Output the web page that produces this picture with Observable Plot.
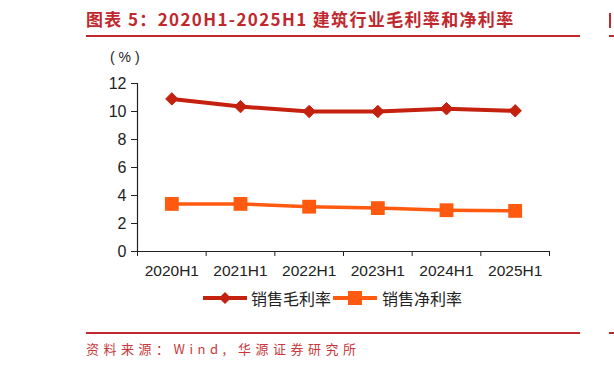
<!DOCTYPE html>
<html>
<head>
<meta charset="utf-8">
<script src="https://cdn.jsdelivr.net/npm/d3@7"></script>
<script src="https://cdn.jsdelivr.net/npm/@observablehq/plot@0.6"></script>
<style>
  html, body { margin: 0; padding: 0; width: 614px; height: 372px; overflow: hidden; background: #fff; }
  body { position: relative; }
  .abs { position: absolute; white-space: nowrap; }
  #title { left: 86px; top: 7px; font-family: "Noto Sans CJK SC", sans-serif; font-weight: 700; font-size: 17px; letter-spacing: 1.35px; color: #C0282E; line-height: 24px; }
  .rule { position: absolute; background: #C0282E; }
  #caption { left: 86px; top: 340px; font-family: "Noto Sans CJK SC", sans-serif; font-weight: 400; font-size: 13px; letter-spacing: 4.5px; color: #C8383C; line-height: 18px; }
  #unit { left: 110px; top: 48px; font-family: "Liberation Sans", Arial, sans-serif; font-size: 14px; color: #222; line-height: 18px; }
  .legtext { font-family: "Noto Sans CJK SC", sans-serif; font-size: 16px; color: #222; line-height: 20px; top: 288px; }
  #chart { position: absolute; left: 0; top: 0; }
</style>
</head>
<body>
<div id="chart"></div>
<div id="title" class="abs">图表 5：2020H1-2025H1 建筑行业毛利率和净利率</div>
<div class="rule" style="left:86px; top:35px; width:494px; height:2px;"></div>
<div class="rule" style="left:609px; top:13px; width:2px; height:15px;"></div>
<div class="rule" style="left:609px; top:35px; width:5px; height:2px;"></div>
<div class="rule" style="left:86px; top:332px; width:494px; height:2px;"></div>
<div class="rule" style="left:609px; top:332px; width:5px; height:2px;"></div>
<div id="caption" class="abs">资料来源：Wind, 华源证券研究所</div>
<div id="unit" class="abs">( % )</div>
<div id="legend"></div>
<script>
const periods = ["2020H1", "2021H1", "2022H1", "2023H1", "2024H1", "2025H1"];
const grossMargin = [10.9, 10.35, 10.0, 10.0, 10.2, 10.05];
const netMargin = [3.4, 3.4, 3.2, 3.1, 2.95, 2.9];
const yTicks = [0, 2, 4, 6, 8, 10, 12];
const seriesNames = ["销售毛利率", "销售净利率"];
const colors = ["#C4210E", "#FF5A0F"];

const gross = periods.map((p, i) => ({i, period: p, value: grossMargin[i]}));
const net = periods.map((p, i) => ({i, period: p, value: netMargin[i]}));
const centers = d3.range(periods.length);
const bounds = d3.range(periods.length + 1).map(k => k - 0.5);

const chart = Plot.plot({
  width: 614,
  height: 372,
  marginLeft: 137,
  marginRight: 65,
  marginTop: 83,
  marginBottom: 121,
  style: {fontFamily: "'Liberation Sans', Arial, sans-serif", fontSize: "15px", color: "#222", background: "transparent"},
  x: {type: "linear", domain: [-0.5, periods.length - 0.5], axis: null},
  y: {domain: [0, 12], axis: null},
  marks: [
    Plot.axisY({ticks: yTicks, tickSize: 6, tickPadding: 5, stroke: "#222", fontSize: 16, label: null}),
    Plot.axisX({ticks: bounds, tickSize: 5, tickFormat: () => "", stroke: "#222", label: null}),
    Plot.axisX({ticks: centers, tickSize: 0, tickPadding: 13, tickFormat: i => periods[i], fontSize: 15.5, label: null}),
    Plot.ruleY([0], {stroke: "#222", strokeWidth: 1.2}),
    Plot.ruleX([-0.5], {stroke: "#222", strokeWidth: 1.2}),
    Plot.line(gross, {x: "i", y: "value", stroke: colors[0], strokeWidth: 4}),
    Plot.dot(gross, {x: "i", y: "value", symbol: "diamond2", r: 5.6, fill: colors[0], stroke: colors[0], strokeWidth: 1}),
    Plot.line(net, {x: "i", y: "value", stroke: colors[1], strokeWidth: 3.5}),
    Plot.dot(net, {x: "i", y: "value", symbol: "square", r: 7.8, fill: colors[1], stroke: "none"})
  ]
});
document.getElementById("chart").appendChild(chart);

// legend
const legend = document.getElementById("legend");
const legendItems = [
  {name: seriesNames[0], color: colors[0], sym: "diamond", x: 203, tx: 251},
  {name: seriesNames[1], color: colors[1], sym: "square", x: 333, tx: 382}
];
legendItems.forEach(it => {
  const ns = "http://www.w3.org/2000/svg";
  const svg = document.createElementNS(ns, "svg");
  svg.setAttribute("width", 46); svg.setAttribute("height", 20);
  svg.style.position = "absolute"; svg.style.left = it.x + "px"; svg.style.top = "288px";
  const ln = document.createElementNS(ns, "line");
  ln.setAttribute("x1", 0); ln.setAttribute("x2", 44); ln.setAttribute("y1", 10); ln.setAttribute("y2", 10);
  ln.setAttribute("stroke", it.color); ln.setAttribute("stroke-width", 4);
  svg.appendChild(ln);
  const p = document.createElementNS(ns, "path");
  p.setAttribute("d", it.sym === "diamond" ? "M22,4L28,10L22,16L16,10Z" : "M15,3H29V17H15Z");
  p.setAttribute("fill", it.color);
  svg.appendChild(p);
  legend.appendChild(svg);
  const t = document.createElement("div");
  t.className = "abs legtext"; t.style.left = it.tx + "px"; t.textContent = it.name;
  legend.appendChild(t);
});
</script>
</body>
</html>
